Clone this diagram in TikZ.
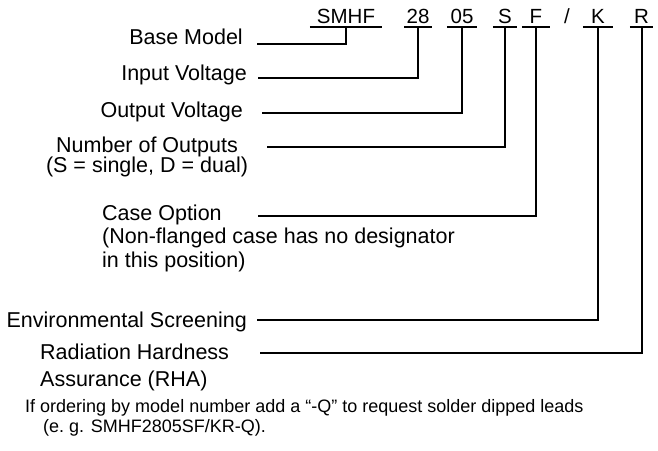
\documentclass[tikz,border=0pt]{standalone}
\usepackage{fontspec}
\setmainfont{Liberation Sans}
\usepackage{tikz}
\usetikzlibrary{positioning}
\tikzset{
  code/.style={font=\fontsize{20.5}{24}\selectfont, anchor=base, text depth=0pt, inner xsep=0pt, inner ysep=4pt},
  part/.style={font=\fontsize{21.5}{24}\selectfont, inner sep=0pt},
  lead/.style={line width=2pt},
  uline/.style={line width=2pt}
}

\begin{document}
\begin{tikzpicture}[x=1pt, y=-1pt]
    \useasboundingbox (0,0) rectangle (658,450);
    % model number parts
    \node[code, minimum width=72pt] (smhf) at (346,23) {SMHF};
    \node[code, minimum width=27pt] (vin) at (418,23) {28};
    \node[code, minimum width=30pt] (vout) at (462,23) {05};
    \node[code, minimum width=24pt] (outs) at (505,23) {S};
    \node[code, minimum width=28pt] (case) at (536,23) {F};
    \node[code] (slash) at (567,23) {/};
    \node[code, minimum width=30pt] (scr) at (598,23) {K};
    \node[code, minimum width=23pt] (rha) at (641.5,23) {R};
    \foreach \n in {smhf, vin, vout, outs, case, scr, rha}
      \draw[uline] (\n.south west) -- (\n.south east);
    % descriptions
    \node[part, anchor=base east] (lbase) at (243,44) {Base Model};
    \node[part, anchor=base east] (lvin) at (247,80) {Input Voltage};
    \node[part, anchor=base east] (lvout) at (243,117) {Output Voltage};
    \node[part, anchor=north, align=center] (louts) at (147,137) {Number of Outputs\\[-4pt](S = single, D = dual)};
    \node[part, anchor=north west, align=left] (lcase) at (102,204.5) {Case Option\\[-0.5pt](Non-flanged case has no designator\\[-0.5pt]in this position)};
    \node[part, anchor=base east] (lscr) at (247,327) {Environmental Screening};
    \node[part, anchor=north west, align=left] (lrha) at (40,344) {Radiation Hardness\\[3pt]Assurance (RHA)};
    \node[inner sep=0pt, anchor=north west, align=left, font=\fontsize{18}{20.5}\selectfont] (note) at (25,399)
      {If ordering by model number add a “-Q” to request solder dipped leads\\\hspace*{18pt}(e.\ g. SMHF2805SF/KR-Q).};
    % leader lines
    \coordinate (cbase) at (257,44);
    \coordinate (cvin) at (258,78);
    \coordinate (cvout) at (262,113);
    \coordinate (couts) at (267,147);
    \coordinate (ccase) at (258,216);
    \coordinate (cscr) at (257,320);
    \coordinate (crha) at (260,353);
    \draw[lead] (cbase) -| (smhf.south);
    \draw[lead] (cvin) -| (vin.south);
    \draw[lead] (cvout) -| (vout.south);
    \draw[lead] (couts) -| (outs.south);
    \draw[lead] (ccase) -| (case.south);
    \draw[lead] (cscr) -| (scr.south);
    \draw[lead] (crha) -| (rha.south);
\end{tikzpicture}
\end{document}
